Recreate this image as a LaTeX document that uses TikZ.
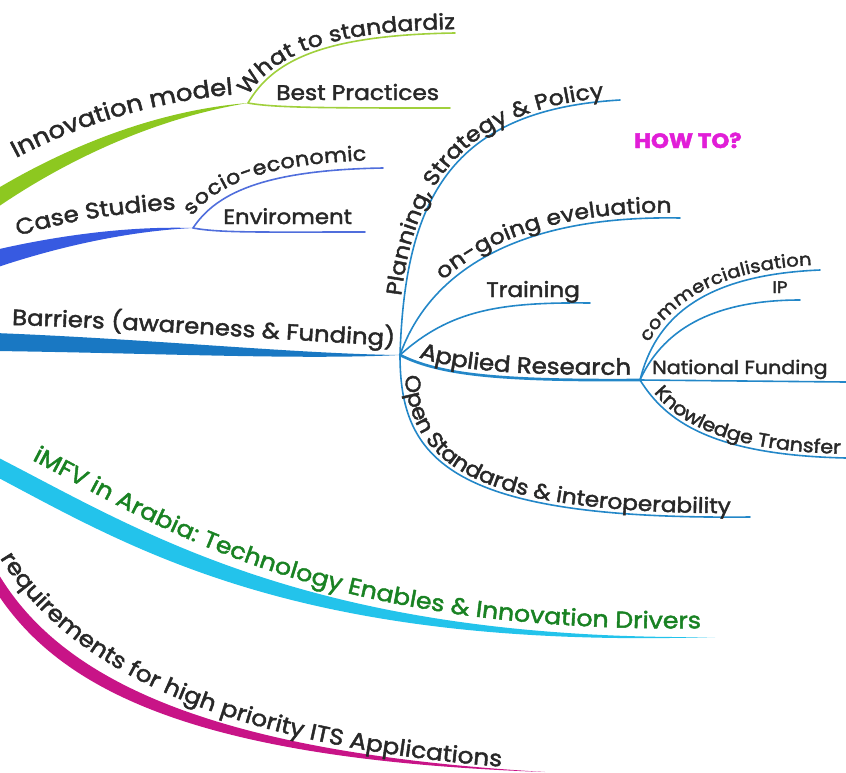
\documentclass[tikz,border=0pt]{standalone}
\usepackage{fontspec}
\setmainfont{Poppins}[FakeStretch=1.1, FakeBold=2]
\usetikzlibrary{decorations.text}
\definecolor{txt}{RGB}{40,40,40}
\definecolor{gmain}{RGB}{141,200,32}
\definecolor{gsub}{RGB}{160,208,60}
\definecolor{bmain}{RGB}{55,90,225}
\definecolor{bsub}{RGB}{80,110,220}
\definecolor{rmain}{RGB}{25,120,195}
\definecolor{rsub}{RGB}{35,135,200}
\definecolor{cmain}{RGB}{35,195,235}
\definecolor{mmain}{RGB}{200,20,135}
\definecolor{tgreen}{RGB}{25,130,35}
\definecolor{howto}{RGB}{225,30,215}
\newcommand\tf[1]{\fontsize{#1}{#1}\selectfont}
\tikzset{
  twig/.style={draw=#1, line width=1.2pt, line cap=round},
  lbl/.style={text=txt, inner sep=0pt, font=\tf{#1}},
  along/.style n args={5}{postaction={decorate}, decoration={text along path, text={|\tf{#1}\color{#2}|#3}, text align={left indent=#4}, raise=#5}},
}
\begin{document}
\begin{tikzpicture}[x=0.75pt,y=-0.75pt]
\useasboundingbox (0,0) rectangle (846,772);
\clip (0,0) rectangle (846,772);
% coordinates
\coordinate (gJ) at (248,103);
\coordinate (gA) at (455,33);
\coordinate (gB) at (450,108);
\coordinate (bJ) at (193,228);
\coordinate (bA) at (383,168);
\coordinate (bB) at (365,232);
\coordinate (hub) at (400,355);
\coordinate (pP) at (620,100);
\coordinate (pE) at (680,218);
\coordinate (pT) at (590,303);
\coordinate (aJ) at (640,380);
\coordinate (pO) at (750,517);
\coordinate (qC) at (820,270);
\coordinate (qI) at (800,300);
\coordinate (qN) at (846,382);
\coordinate (qK) at (846,458);
\coordinate (cE) at (715,637);
\coordinate (mE) at (545,772);
% green branch
\fill[gmain] (-5,190) .. controls (60,151) and (150,111) .. (gJ) .. controls (150,119) and (60,164) .. (-5,209) -- cycle;
\draw[twig=gsub] (gJ) .. controls (272,62) and (320,35) .. (gA);
\draw[twig=gsub] (gJ) .. controls (275,108) and (330,108) .. (gB);
\path[along={17.7}{txt}{Innovation model}{0pt}{0pt}] (16,158) .. controls (80,124) and (160,100) .. (240,94) -- ++(40,0);
\path[along={16}{txt}{What to standardiz}{4pt}{3pt}] (gJ) .. controls (272,62) and (320,35) .. (gA) -- ++(40,0);
\node[lbl=15.9, anchor=base west] (tBest) at (276,100) {Best Practices};
% blue branch
\fill[bmain] (-5,250) .. controls (60,235) and (130,226) .. (bJ) .. controls (130,231) and (60,246) .. (-5,268) -- cycle;
\draw[twig=bsub] (bJ) .. controls (215,195) and (260,170) .. (bA);
\draw[twig=bsub] (bJ) .. controls (220,233) and (260,232) .. (bB);
\path[along={16.8}{txt}{Case Studies}{0pt}{0pt}] (18,236) .. controls (70,220) and (120,212) .. (200,208) -- ++(40,0);
\path[along={15.1}{txt}{socio-economic}{6pt}{6pt}] (bJ) .. controls (215,195) and (260,170) .. (bA) -- ++(40,0);
\node[lbl=15.6, anchor=base west] (tEnv) at (223,224) {Enviroment};
% barriers branch
\fill[rmain] (-5,333) .. controls (150,339) and (300,354) .. (hub) .. controls (300,360) and (150,353) .. (-5,351) -- cycle;
\path[along={16.6}{txt}{Barriers (awareness {\&} Funding)}{0pt}{0pt}] (12,325) .. controls (130,328) and (280,340) .. (400,346) -- ++(40,2);
\draw[twig=rsub] (hub) .. controls (405,200) and (450,110) .. (pP);
\draw[twig=rsub] (hub) .. controls (430,270) and (520,215) .. (pE);
\draw[twig=rsub] (hub) .. controls (450,310) and (500,302) .. (pT);
\draw[twig=rsub, line width=2pt] (hub) .. controls (440,375) and (500,381) .. (aJ);
\draw[twig=rsub] (hub) .. controls (400,460) and (450,520) .. (pO);
\draw[twig=rsub] (aJ) .. controls (655,320) and (700,275) .. (qC);
\draw[twig=rsub] (aJ) .. controls (665,325) and (720,300) .. (qI);
\draw[twig=rsub] (aJ) -- (qN);
\draw[twig=rsub] (aJ) .. controls (665,420) and (710,455) .. (qK);
\path[along={16}{txt}{Planning, Strategy {\&} Policy}{44pt}{2.5pt}] (hub) .. controls (405,200) and (450,110) .. (pP) -- ++(40,0);
\path[along={16}{txt}{on-going eveluation}{64pt}{4pt}] (hub) .. controls (430,270) and (520,215) .. (pE) -- ++(40,0);
\node[lbl=15.8, anchor=base west] (tTr) at (486,297) {Training};
\path[along={16.8}{txt}{Applied Research}{14pt}{4pt}] (hub) .. controls (440,375) and (500,381) .. (aJ) -- ++(40,0);
\path[along={15.9}{txt}{Open Standards {\&} interoperability}{16pt}{3pt}] (hub) .. controls (400,460) and (450,520) .. (pO) -- ++(40,0);
\path[along={13.3}{txt}{commercialisation}{28pt}{4pt}] (aJ) .. controls (655,320) and (700,275) .. (qC) -- ++(40,0);
\node[lbl=12.5, anchor=base] (tIP) at (780,293) {IP};
\node[lbl=14.1, anchor=base west] (tNF) at (652,374) {National Funding};
\path[along={14.2}{txt}{Knowledge Transfer}{14pt}{3pt}] (aJ) .. controls (665,420) and (710,455) .. (qK) -- ++(40,0);
\node[font=\tf{15.6}\bfseries, text=howto, inner sep=0pt, anchor=base west] (how) at (634,148) {HOW TO?};
% cyan branch
\fill[cmain] (-5,456) .. controls (140,530) and (310,641) .. (cE) .. controls (300,650) and (135,550) .. (-5,476) -- cycle;
\path[along={17.2}{tgreen}{iMFV in Arabia: Technology Enables {\&} Innovation Drivers}{0pt}{0pt}] (32,460) .. controls (160,526) and (320,636) .. (715,628) -- ++(60,0);
% magenta branch
\fill[mmain] (-5,568) .. controls (55,675) and (200,752) .. (mE) .. controls (200,760) and (60,692) .. (-5,590) -- cycle;
\path[along={16.9}{txt}{requirements for high priority ITS Applications}{0pt}{0pt}] (0,558) .. controls (60,656) and (200,746) .. (520,768) -- ++(60,0);
\end{tikzpicture}
\end{document}
